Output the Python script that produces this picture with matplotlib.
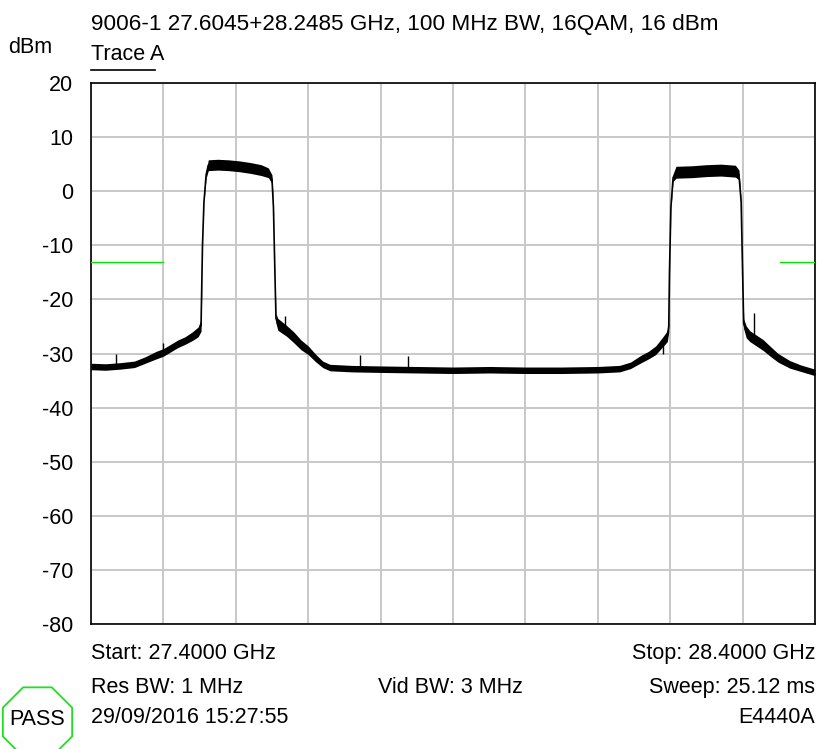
import matplotlib
matplotlib.use("Agg")
import matplotlib.pyplot as plt
from matplotlib.patches import RegularPolygon
import numpy as np

plt.rcParams['font.family'] = ['Liberation Sans', 'DejaVu Sans']

# Sweep settings
f_start, f_stop = 27.4, 28.4          # GHz
ref_top, ref_bottom = 20, -80          # dBm
y_ticks = [20, 10, 0, -10, -20, -30, -40, -50, -60, -70, -80]
limit_level = -13.0                    # dBm, spectral mask line
limit_left = (27.400, 27.500)
limit_right = (28.352, 28.400)

# Trace A: mean level and half-width of the noise band
trace_freq = [27.400, 27.420, 27.440, 27.460, 27.475, 27.490, 27.500, 27.510,
              27.520, 27.530, 27.540, 27.548, 27.552, 27.554, 27.556, 27.559,
              27.562, 27.575, 27.590, 27.605, 27.620, 27.635, 27.645, 27.650,
              27.652, 27.654, 27.6555, 27.658, 27.670, 27.680, 27.690, 27.700,
              27.710, 27.720, 27.730, 27.760, 27.800, 27.850, 27.900, 27.950,
              28.000, 28.050, 28.100, 28.130, 28.145, 28.160, 28.170, 28.180,
              28.190, 28.196, 28.198, 28.199, 28.201, 28.204, 28.208, 28.230,
              28.250, 28.270, 28.290, 28.295, 28.298, 28.300, 28.3015, 28.305,
              28.310, 28.328, 28.340, 28.349, 28.365, 28.380, 28.400]
trace_level = [-32.4, -32.5, -32.3, -32.0, -31.2, -30.3, -29.8, -29.0,
               -28.2, -27.6, -26.8, -26.0, -24.8, -10.0, -2.0, 3.0,
               4.8, 4.9, 4.8, 4.6, 4.3, 3.9, 3.4, 2.2,
               -3.0, -15.0, -23.5, -24.6, -25.8, -27.0, -28.4, -29.4,
               -30.8, -32.0, -32.6, -32.8, -32.9, -33.0, -33.1, -33.0,
               -33.1, -33.1, -33.0, -32.8, -32.2, -31.0, -30.3, -29.4,
               -27.8, -26.8, -25.0, -15.0, -3.0, 2.5, 3.5, 3.6,
               3.8, 3.9, 3.7, 3.0, -2.0, -15.0, -24.5, -26.0,
               -26.8, -28.4, -29.8, -30.8, -32.0, -32.7, -33.5]
trace_spread = [0.6, 0.6, 0.6, 0.6, 0.6, 0.7, 0.7, 0.7,
                0.7, 0.7, 0.8, 0.9, 1.1, 0.2, 0.2, 0.6,
                1.0, 1.0, 1.0, 1.0, 1.0, 1.0, 0.9, 0.8,
                0.2, 0.2, 0.9, 1.1, 1.0, 1.0, 0.9, 0.8,
                0.7, 0.6, 0.6, 0.6, 0.6, 0.6, 0.6, 0.6,
                0.6, 0.6, 0.6, 0.6, 0.6, 0.7, 0.7, 0.8,
                0.9, 1.0, 1.0, 0.2, 0.2, 0.7, 1.1, 1.1,
                1.1, 1.1, 1.1, 0.9, 0.2, 0.2, 0.9, 1.1,
                1.0, 1.0, 0.9, 0.8, 0.7, 0.6, 0.6]

# Isolated noise spikes (frequency GHz, peak dBm)
spike_freq = [27.435, 27.500, 27.668, 27.771, 27.838, 28.190, 28.316]
spike_peak = [-30.0, -28.0, -23.0, -30.3, -30.4, -30.0, -22.5]

W, H = 819, 749
fig = plt.figure(figsize=(W / 100, H / 100), dpi=100)
ax = fig.add_axes([91 / W, 1 - 624 / H, 724 / W, 541 / H])
ax.set_xlim(f_start, f_stop)
ax.set_ylim(ref_bottom, ref_top)

# Graticule: 10 x 10 divisions
ax.set_xticks(np.linspace(f_start, f_stop, 11))
ax.set_yticks(y_ticks)
ax.set_yticklabels([str(v) for v in y_ticks], fontsize=15.5)
ax.tick_params(axis='y', length=0, pad=13)
ax.tick_params(axis='x', length=0, labelbottom=False)
ax.grid(True, color='#c8c8c8', linewidth=1.4)
ax.set_axisbelow(True)
for s in ax.spines.values():
    s.set_linewidth(1.2)
    s.set_color('black')

f = np.array(trace_freq)
lvl = np.array(trace_level)
spr = np.array(trace_spread)
ax.fill_between(f, lvl - spr, lvl + spr, color='black', linewidth=0, zorder=3)
ax.plot(f, lvl, color='black', linewidth=1.2, zorder=3)
ax.vlines(spike_freq, np.interp(spike_freq, f, lvl), spike_peak,
          color='black', linewidth=1.0, zorder=3)

# Mask limit lines
ax.plot(limit_left, [limit_level] * 2, color='#00e600', linewidth=1.0, zorder=4)
ax.plot(limit_right, [limit_level] * 2, color='#00e600', linewidth=1.0, zorder=4)

def px(x, y):
    return x / W, 1 - y / H

fs = 15.5
fig.text(*px(91, 30), "9006-1 27.6045+28.2485 GHz, 100 MHz BW, 16QAM, 16 dBm",
         fontsize=16.2, ha='left', va='baseline')
fig.text(*px(8, 53), "dBm", fontsize=fs, ha='left', va='baseline')
fig.text(*px(91, 60), "Trace A", fontsize=fs, ha='left', va='baseline')
fig.add_artist(plt.Line2D([91 / W, 155 / W], [1 - 70 / H] * 2,
                          color='black', linewidth=1.2))

fig.text(*px(91, 659), "Start: 27.4000 GHz", fontsize=fs, ha='left', va='baseline')
fig.text(*px(815, 659), "Stop: 28.4000 GHz", fontsize=fs, ha='right', va='baseline')
fig.text(*px(91, 693), "Res BW: 1 MHz", fontsize=fs, ha='left', va='baseline')
fig.text(*px(450, 693), "Vid BW: 3 MHz", fontsize=fs, ha='center', va='baseline')
fig.text(*px(815, 693), "Sweep: 25.12 ms", fontsize=fs, ha='right', va='baseline')
fig.text(*px(91, 723), "29/09/2016 15:27:55", fontsize=fs, ha='left', va='baseline')
fig.text(*px(815, 723), "E4440A", fontsize=fs, ha='right', va='baseline')

# PASS badge
oct_ax = fig.add_axes([0, 0, 1, 1], facecolor='none')
oct_ax.set_xlim(0, W)
oct_ax.set_ylim(H, 0)
oct_ax.axis('off')
oct_ax.add_patch(RegularPolygon((37.5, 722), numVertices=8, radius=37.5,
                                orientation=np.pi / 8, fill=False,
                                edgecolor='#22dd22', linewidth=1.3))
oct_ax.text(37, 725, "PASS", fontsize=fs, ha='center', va='baseline')

fig.savefig("out.png", dpi=100, facecolor='white')
